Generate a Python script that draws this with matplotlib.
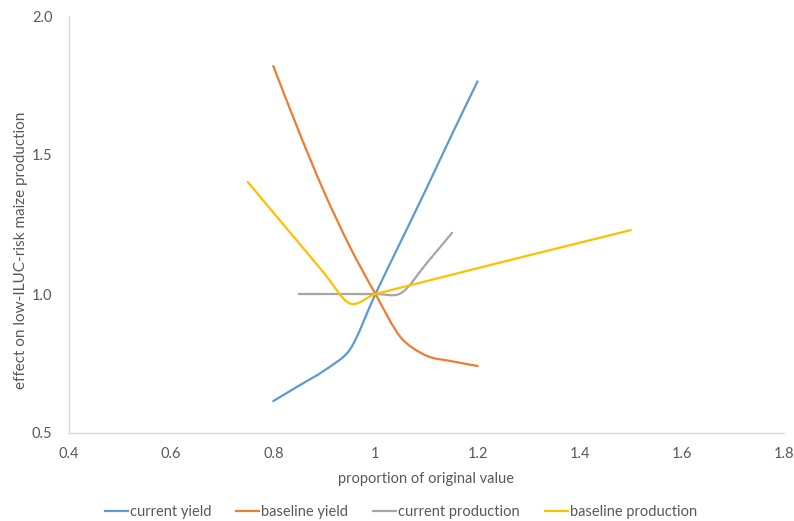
import numpy as np
import matplotlib.pyplot as plt
from matplotlib.path import Path
from matplotlib.patches import PathPatch
from matplotlib.lines import Line2D

plt.rcParams['font.family'] = ['Lato', 'DejaVu Sans']

# series read as (proportion, effect)
x_cur_yield = [0.8, 0.85, 0.9, 0.95, 1.0, 1.05, 1.1, 1.15, 1.2]
y_cur_yield = [0.615, 0.67, 0.725, 0.80, 1.0, 1.19, 1.38, 1.575, 1.765]

x_base_yield = [0.8, 0.85, 0.9, 0.95, 1.0, 1.05, 1.1, 1.15, 1.2]
y_base_yield = [1.82, 1.585, 1.365, 1.17, 1.0, 0.843, 0.778, 0.758, 0.741]

x_cur_prod = [0.85, 0.9, 0.95, 1.0, 1.05, 1.1, 1.15]
y_cur_prod = [1.0, 1.0, 1.0, 1.0, 1.003, 1.11, 1.22]

x_base_prod = [0.75, 0.8, 0.85, 0.9, 0.95, 1.0, 1.5]
y_base_prod = [1.403, 1.293, 1.184, 1.074, 0.966, 1.0, 1.23]

labels = ['current yield', 'baseline yield', 'current production', 'baseline production']
colors = ['#5B9BD5', '#ED7D31', '#A5A5A5', '#FFC000']

x_ticks = [0.4, 0.6, 0.8, 1.0, 1.2, 1.4, 1.6, 1.8]
x_ticklabels = ['0.4', '0.6', '0.8', '1', '1.2', '1.4', '1.6', '1.8']
y_ticks = [0.5, 1.0, 1.5, 2.0]
y_ticklabels = ['0.5', '1.0', '1.5', '2.0']

text_col = '#595959'
axis_col = '#D9D9D9'


def smooth_path(ax, xs, ys):
    # cubic bezier through the points (catmull-rom style, worked out in
    # screen space); arms are capped at a third of the segment
    trans = ax.transData
    p = trans.transform(np.column_stack([xs, ys]).astype(float))
    n = len(p)
    verts = [p[0]]
    codes = [Path.MOVETO]
    for i in range(n - 1):
        p0 = p[i - 1] if i > 0 else p[i]
        p1 = p[i]
        p2 = p[i + 1]
        p3 = p[i + 2] if i + 2 < n else p[i + 1]
        seg = np.hypot(*(p2 - p1))
        t1 = p2 - p0
        t2 = p3 - p1
        l1 = min(np.hypot(*t1) / 6.0, seg / 3.0)
        l2 = min(np.hypot(*t2) / 6.0, seg / 3.0)
        c1 = p1 + t1 / np.hypot(*t1) * l1
        c2 = p2 - t2 / np.hypot(*t2) * l2
        verts += [c1, c2, p2]
        codes += [Path.CURVE4] * 3
    verts = trans.inverted().transform(np.array(verts))
    return Path(verts, codes)


fig = plt.figure(figsize=(7.94, 5.21), dpi=100)
ax = fig.add_axes([69 / 794, 1 - 433 / 521, 715 / 794, 417 / 521])
ax.set_xlim(0.4, 1.8)
ax.set_ylim(0.5, 2.0)

series = [(x_cur_yield, y_cur_yield), (x_base_yield, y_base_yield),
          (x_cur_prod, y_cur_prod), (x_base_prod, y_base_prod)]
for (xs, ys), c in zip(series, colors):
    ax.add_patch(PathPatch(smooth_path(ax, xs, ys), fill=False, edgecolor=c,
                           linewidth=1.6, capstyle='round', joinstyle='round'))

ax.set_xticks(x_ticks)
ax.set_xticklabels(x_ticklabels)
ax.set_yticks(y_ticks)
ax.set_yticklabels(y_ticklabels)
ax.tick_params(length=0, labelsize=10.5, labelcolor=text_col, pad=10)
ax.tick_params(axis='y', pad=12)

for s in ['top', 'right']:
    ax.spines[s].set_visible(False)
for s in ['left', 'bottom']:
    ax.spines[s].set_color(axis_col)
    ax.spines[s].set_linewidth(1.0)

ax.set_xlabel('proportion of original value', fontsize=10.5, color=text_col, labelpad=8)
ax.set_ylabel('effect on low-ILUC-risk maize production', fontsize=11, color=text_col)
ax.yaxis.set_label_coords(-0.057, 0.439)

handles = [Line2D([], [], color=c, linewidth=1.6) for c in colors]
fig.legend(handles, labels, loc='center', bbox_to_anchor=(0.505, 1 - 512 / 521), ncol=4,
           frameon=False, fontsize=10.5, labelcolor=text_col, handlelength=1.58,
           handletextpad=0.15, columnspacing=1.7)

fig.savefig('out.png', dpi=100)
